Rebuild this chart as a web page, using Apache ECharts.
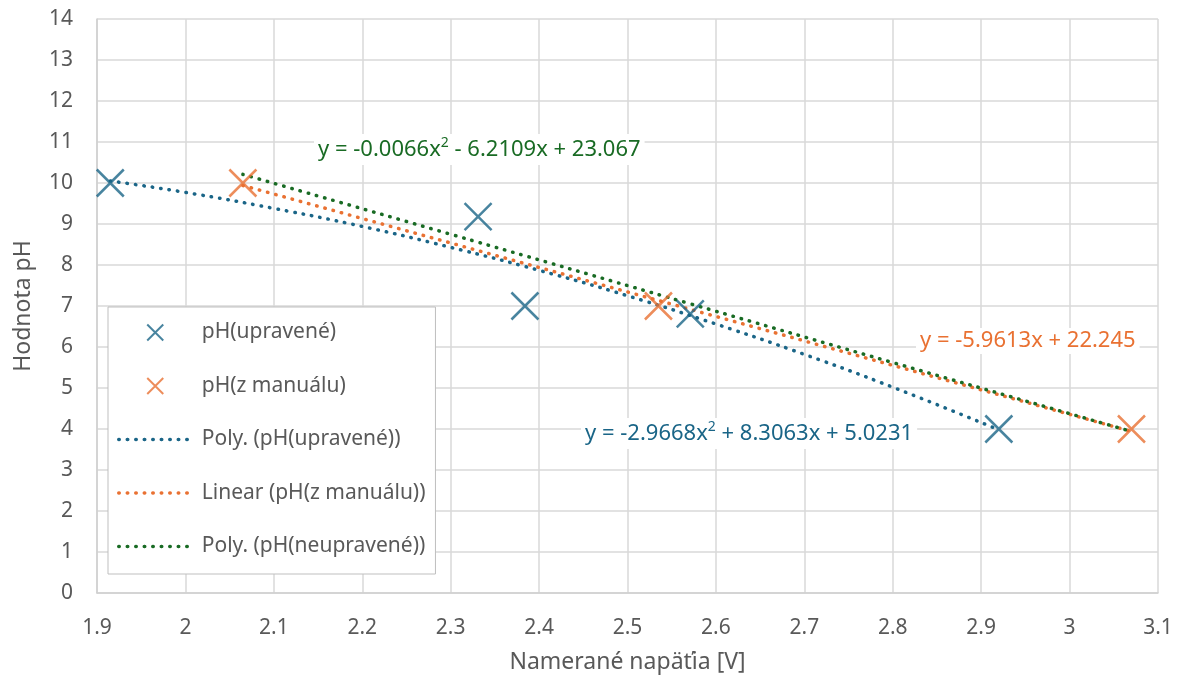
<!DOCTYPE html>
<html>
<head>
<meta charset="utf-8">
<script src="https://cdn.jsdelivr.net/npm/echarts@6/dist/echarts.min.js"></script>
<style>
  html, body { margin: 0; padding: 0; background: #fff; }
  #chart { width: 1186px; height: 682px; }
</style>
</head>
<body>
<div id="chart"></div>
<script>
// namerane body
const upX = [1.915, 2.331, 2.384, 2.571, 2.92]
const upY = [10, 9.18, 7, 6.81, 4]
const manX = [2.065, 2.535, 3.07]
const manY = [10, 7, 4]

// trendove ciary odcitane z grafu
const upTrendX = [1.915, 2.0, 2.1, 2.2, 2.3, 2.4, 2.5, 2.6, 2.7, 2.8, 2.92]
const upTrendY = [10.05, 9.77, 9.38, 8.94, 8.43, 7.87, 7.25, 6.56, 5.82, 5.02, 3.98]
const manTrendX = [2.065, 3.07]
const manTrendY = [9.94, 3.94]
const neTrendX = [2.065, 2.3, 2.57, 2.8, 3.07]
const neTrendY = [10.21, 8.75, 7.06, 5.62, 3.94]

const seriesNames = ['pH(upravené)', 'pH(z manuálu)', 'Poly. (pH(upravené))', 'Linear (pH(z manuálu))', 'Poly. (pH(neupravené))']

const BLUE = '#1a6587'
const ORANGE = '#e97132'
const GREEN = '#196b24'
const FONT = 'Noto Sans'
const CROSS = 'path://M0,0L20,20M20,0L0,20'

function pairs(xs, ys) {
  return xs.map(function(x, i) { return [x, ys[i]] })
}

function dotted(color) {
  return { color: color, width: 3.5, type: [0.5, 8], cap: 'round' }
}

const chart = echarts.init(document.getElementById('chart'))

const eqStyle = function(color) {
  return {
    fontFamily: FONT,
    fontSize: 22,
    fill: color,
    backgroundColor: '#fff',
    padding: [2, 4],
    rich: {
      n: { fontFamily: FONT, fontSize: 22, color: color },
      sup: { fontFamily: FONT, fontSize: 14, color: color, padding: [0, 0, 13, 0] }
    }
  }
}

// legenda: pri trendovych ciarach bez bodky
const legendData = seriesNames.map(function(name, i) {
  if (i < 2) return { name: name }
  return {
    name: name,
    itemStyle: { color: 'transparent', borderWidth: 0, opacity: 0 },
    lineStyle: { width: 3.5, type: [0.5, 8], cap: 'round' }
  }
})

const option = {
  animation: false,
  textStyle: { fontFamily: FONT },
  grid: { left: 97, right: 28, top: 19, bottom: 89, outerBoundsMode: 'none', containLabel: false },
  legend: {
    orient: 'vertical',
    left: 108,
    top: 307,
    padding: [15, 10, 17, 9],
    itemGap: 32.5,
    itemWidth: 73,
    itemHeight: 16,
    backgroundColor: '#fff',
    borderColor: '#bfbfbf',
    borderWidth: 1,
    borderRadius: 0,
    textStyle: { fontFamily: FONT, fontSize: 21, color: '#595959', padding: [0, 0, 0, 5] },
    data: legendData
  },
  xAxis: {
    type: 'value',
    min: 1.9,
    max: 3.1,
    interval: 0.1,
    name: 'Namerané napäťia [V]',
    nameLocation: 'middle',
    nameGap: 58,
    nameTextStyle: { fontFamily: FONT, fontSize: 23, color: '#595959' },
    axisLine: { lineStyle: { color: '#cfcfcf', width: 1.5 } },
    axisTick: { show: false },
    axisLabel: { fontFamily: FONT, fontSize: 21, color: '#595959', margin: 25 },
    splitLine: { show: true, lineStyle: { color: '#d9d9d9', width: 1.5 } }
  },
  yAxis: {
    type: 'value',
    min: 0,
    max: 14,
    interval: 1,
    name: 'Hodnota pH',
    nameLocation: 'middle',
    nameGap: 62,
    nameTextStyle: { fontFamily: FONT, fontSize: 23, color: '#595959' },
    axisLine: { show: true, lineStyle: { color: '#cfcfcf', width: 1.5 } },
    axisTick: { show: false },
    axisLabel: { fontFamily: FONT, fontSize: 21, color: '#595959', margin: 24 },
    splitLine: { show: true, lineStyle: { color: '#d9d9d9', width: 1.5 } }
  },
  series: [
    {
      name: seriesNames[2],
      type: 'line',
      data: pairs(upTrendX, upTrendY),
      smooth: true,
      symbol: 'none',
      color: BLUE,
      lineStyle: dotted(BLUE),
      z: 2
    },
    {
      name: seriesNames[3],
      type: 'line',
      data: pairs(manTrendX, manTrendY),
      symbol: 'none',
      color: ORANGE,
      lineStyle: dotted(ORANGE),
      z: 2
    },
    {
      name: seriesNames[4],
      type: 'line',
      data: pairs(neTrendX, neTrendY),
      smooth: true,
      symbol: 'none',
      color: GREEN,
      lineStyle: dotted(GREEN),
      z: 2
    },
    {
      name: seriesNames[0],
      type: 'scatter',
      data: pairs(upX, upY),
      symbol: CROSS,
      symbolSize: 27,
      color: BLUE,
      itemStyle: { color: 'transparent', borderColor: BLUE, borderWidth: 2.5 },
      z: 3
    },
    {
      name: seriesNames[1],
      type: 'scatter',
      data: pairs(manX, manY),
      symbol: CROSS,
      symbolSize: 27,
      color: ORANGE,
      itemStyle: { color: 'transparent', borderColor: ORANGE, borderWidth: 2.5 },
      z: 3
    }
  ],
  graphic: [
    {
      type: 'text',
      left: 314,
      top: 134,
      z: 10,
      style: Object.assign(eqStyle(GREEN), {
        text: '{n|y = -0.0066x}{sup|2}{n| - 6.2109x + 23.067}'
      })
    },
    {
      type: 'text',
      left: 916,
      top: 328,
      z: 10,
      style: Object.assign(eqStyle(ORANGE), {
        text: '{n|y = -5.9613x + 22.245}'
      })
    },
    {
      type: 'text',
      left: 581,
      top: 418,
      z: 10,
      style: Object.assign(eqStyle(BLUE), {
        text: '{n|y = -2.9668x}{sup|2}{n| + 8.3063x + 5.0231}'
      })
    }
  ]
}

chart.setOption(option)
</script>
</body>
</html>
